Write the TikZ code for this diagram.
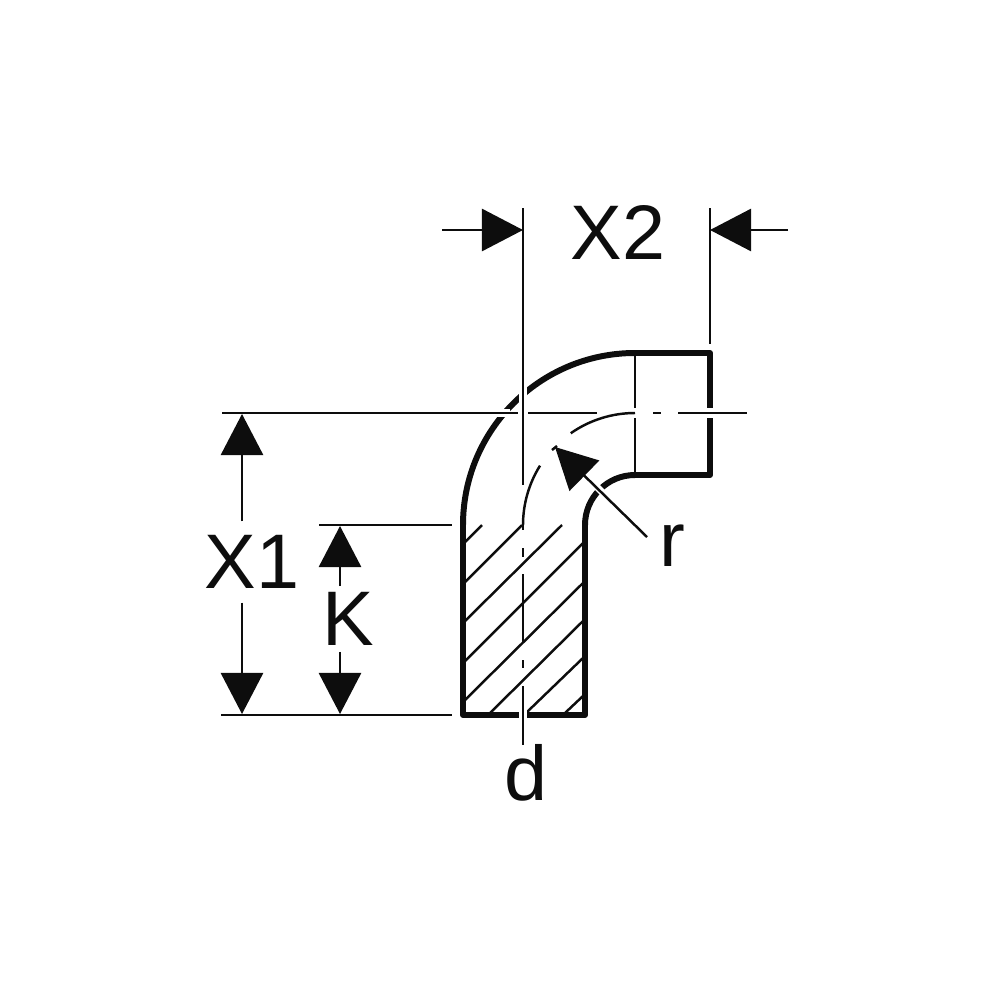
\documentclass[tikz,border=0pt]{standalone}
\usepackage{fontspec}
\setmainfont{Liberation Sans}
\usetikzlibrary{arrows.meta}
\colorlet{inkblack}{black!95}
\tikzset{
	thinline/.style={inkblack, line width=0.7pt},
	pipeline/.style={inkblack, line width=1.7pt, line join=round},
	gapline/.style={white, line width=2.5pt},
	dimline/.style={thinline, -{Triangle[length=11.7pt, width=12pt]}},
	dimlabel/.style={inkblack, inner sep=0pt, font=\fontsize{22pt}{24pt}\selectfont},
}
\begin{document}
\begin{tikzpicture}[x=0.01cm, y=-0.01cm]
	\useasboundingbox (0,0) rectangle (1000,1000);
	% hatching
	\foreach \xa/\ya/\xb/\yb in {465/542/482/525, 465/582/522/525, 465/621/562/525, 465/661/583/543,
		465/700/583/583, 490/713/583/621, 526/713/583/658, 565/713/583/696}
		\draw[thinline] (\xa,\ya) -- (\xb,\yb);
	% pipe
	\draw[pipeline] (463,715) -- (463,525) arc[start angle=180, end angle=270, radius=172]
		-- (710,353) -- (710,475) -- (635,475) arc[start angle=270, end angle=180, radius=50] -- (585,715) -- cycle;
	\draw[thinline] (635,353) -- (635,408);
	\draw[thinline] (635,418) -- (635,475);
	\draw[gapline] (523,385) -- (523,405);
	\draw[gapline] (488,413) -- (510,413);
	\draw[gapline] (710,408) -- (710,418);
	\draw[gapline] (523,710) -- (523,720);
	\draw[gapline, line width=2pt] (590,480) -- (606,496);
	% centre lines
	\draw[thinline] (523,208) -- (523,485);
	\draw[thinline] (523,525) arc[start angle=180, end angle=212, radius=112];
	\draw[thinline] (552,450) -- (557,446);
	\draw[thinline] (635,413) arc[start angle=270, end angle=235, radius=112];
	\foreach \ya/\yb in {525/530, 548/557, 574/642, 660/668, 686/745}
		\draw[thinline] (523,\ya) -- (523,\yb);
	\draw[thinline] (222,413) -- (518,413);
	\draw[thinline] (528,413) -- (597,413);
	\draw[thinline] (653,413) -- (661,413);
	\draw[thinline] (678,413) -- (747,413);
	% extension lines
	\draw[thinline] (710,208) -- (710,344);
	\draw[thinline] (319,525) -- (452,525);
	\draw[thinline] (221,715) -- (452,715);
	% labels
	\node[dimlabel] (xtwo) at (618,232) {X2};
	\node[dimlabel, outer ysep=4pt] (xone) at (252,562) {X1};
	\node[dimlabel, outer ysep=1.8pt] (kay) at (348,619) {K};
	\node[dimlabel] (rad) at (672,546) {r};
	\node[dimlabel] (dia) at (526,773) {d};
	\coordinate (xtwol) at (523,230);
	\coordinate (xtwor) at (710,230);
	\coordinate (xonet) at (242,414);
	\coordinate (xoneb) at (242,714);
	\coordinate (kayt) at (340,526);
	\coordinate (kayb) at (340,714);
	\coordinate (radt) at (555,447);
	\coordinate (rade) at (647,537);
	% dimension arrows
	\draw[dimline] (442,230) -- (xtwol);
	\draw[dimline] (788,230) -- (xtwor);
	\draw[dimline] (xone.north -| xonet) -- (xonet);
	\draw[dimline] (xone.south -| xoneb) -- (xoneb);
	\draw[dimline] (kay.north -| kayt) -- (kayt);
	\draw[dimline] (kay.south -| kayb) -- (kayb);
	\draw[dimline] (rade) -- (radt);
\end{tikzpicture}
\end{document}
